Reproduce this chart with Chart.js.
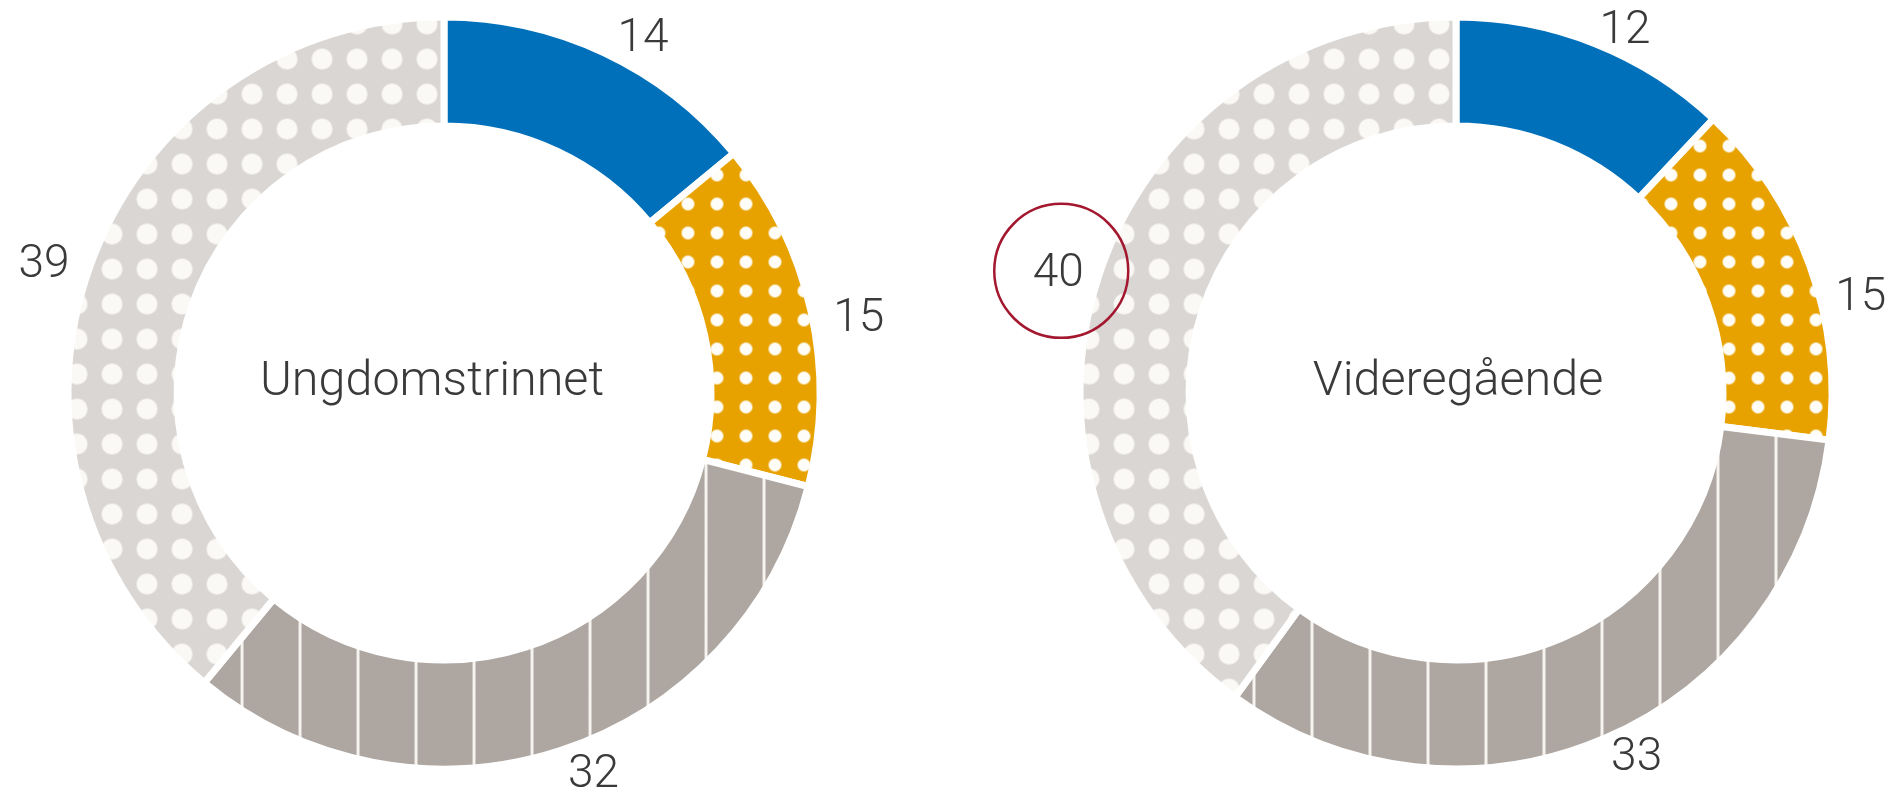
<!DOCTYPE html>
<html>
<head>
<meta charset="utf-8">
<script src="https://cdn.jsdelivr.net/npm/chart.js@4.4.1/dist/chart.umd.min.js"></script>
<style>
html,body{margin:0;padding:0;background:#ffffff;}
#wrap{position:relative;width:1887px;height:793px;overflow:hidden;background:#fff;}
canvas{position:absolute;top:0;}
</style>
</head>
<body>
<div id="wrap">
  <canvas id="c1" width="943" height="793" style="left:0px"></canvas>
  <canvas id="c2" width="944" height="793" style="left:943px"></canvas>
</div>
<script>
// ---- data ----
const categories = ['Kategori 1', 'Kategori 2', 'Kategori 3', 'Kategori 4'];
const chartTitles = ['Ungdomstrinnet', 'Videregående'];
const ungdomstrinnetValues = [14, 15, 32, 39];
const videregaendeValues = [12, 15, 33, 40];

// ---- styles ----
const BLUE = '#0070BA';
const ORANGE = '#E8A200';
const GRAY = '#ADA6A1';
const LIGHT = '#D9D6D3';
const TEXT = '#3a3a3a';
const RING_FONT = '300 46px Roboto';
const TITLE_FONT = '300 48.5px Roboto';

function makeDots(bg, dot, size, rad) {
  const c = document.createElement('canvas');
  c.width = size; c.height = size;
  const x = c.getContext('2d');
  x.fillStyle = bg; x.fillRect(0, 0, size, size);
  x.fillStyle = dot; x.beginPath(); x.arc(size / 2, size / 2, rad, 0, Math.PI * 2); x.fill();
  return { canvas: c, size };
}
function makeLines(bg, line, size, lw) {
  const c = document.createElement('canvas');
  c.width = size; c.height = 4;
  const x = c.getContext('2d');
  x.fillStyle = bg; x.fillRect(0, 0, size, 4);
  x.fillStyle = line; x.fillRect(0, 0, lw, 4);
  return { canvas: c, size };
}

function buildFills(ctx) {
  const o = makeDots(ORANGE, '#FFFDF8', 29, 6.5);
  const l = makeDots(LIGHT, '#FBF9F5', 35, 10.5);
  const g = makeLines(GRAY, '#F7F4F0', 58, 3);
  const op = ctx.createPattern(o.canvas, 'repeat');
  const lp = ctx.createPattern(l.canvas, 'repeat');
  const gp = ctx.createPattern(g.canvas, 'repeat');
  return {
    colors: [BLUE, op, gp, lp],
    align(cx, cy) {
      op.setTransform(new DOMMatrix([1, 0, 0, 1, cx + 12 - 14.5, cy + 14 - 14.5]));
      lp.setTransform(new DOMMatrix([1, 0, 0, 1, cx + 18 - 17.5, cy + 16 - 17.5]));
      gp.setTransform(new DOMMatrix([1, 0, 0, 1, cx + 30 - 1.5, 0]));
    }
  };
}

const ringLabels = {
  id: 'ringLabels',
  beforeDatasetsDraw(chart, args, opts) {
    const arc = chart.getDatasetMeta(0).data[0];
    if (arc && opts.fills) opts.fills.align(arc.x, arc.y);
  },
  afterDatasetsDraw(chart, args, opts) {
    const ctx = chart.ctx;
    const meta = chart.getDatasetMeta(0);
    const ds = chart.data.datasets[0];
    ctx.save();
    ctx.fillStyle = TEXT;
    ctx.textAlign = 'center';
    ctx.textBaseline = 'alphabetic';
    ctx.font = RING_FONT;
    let cx = 0, cy = 0;
    meta.data.forEach((arc, i) => {
      const p = arc.getProps(['x', 'y', 'startAngle', 'endAngle', 'outerRadius'], true);
      cx = p.x; cy = p.y;
      const mid = (p.startAngle + p.endAngle) / 2 + ((opts.nudge && opts.nudge[i]) || 0) * Math.PI / 180;
      const txt = String(ds.data[i]);
      const w = ctx.measureText(txt).width;
      const ext = Math.abs(Math.cos(mid)) * w / 2;
      const r = p.outerRadius + opts.gap + ext;
      const x = p.x + Math.cos(mid) * r;
      const y = p.y + Math.sin(mid) * r;
      ctx.fillText(txt, x, y + 16);
      if (opts.highlight === i) {
        ctx.save();
        ctx.strokeStyle = '#A3182F';
        ctx.lineWidth = 2.5;
        ctx.beginPath();
        ctx.arc(x + 3, y + 1, 67, 0, Math.PI * 2);
        ctx.stroke();
        ctx.restore();
      }
    });
    ctx.font = TITLE_FONT;
    ctx.fillText(opts.title, cx + (opts.titleDx || 0), cy + 2);
    ctx.restore();
  }
};

function makeChart(id, values, title, padding, nudge, highlight, titleDx, gap) {
  const canvas = document.getElementById(id);
  const ctx = canvas.getContext('2d');
  const fills = buildFills(ctx);
  return new Chart(ctx, {
    type: 'doughnut',
    data: {
      labels: categories,
      datasets: [{
        data: values,
        backgroundColor: fills.colors,
        borderColor: '#ffffff',
        borderWidth: 7,
        borderJoinStyle: 'miter',
        hoverOffset: 0
      }]
    },
    options: {
      responsive: false,
      animation: false,
      events: [],
      radius: 376,
      cutout: '71%',
      rotation: 0,
      circumference: 360,
      layout: { padding },
      plugins: {
        legend: { display: false },
        tooltip: { enabled: false },
        ringLabels: { fills, title, gap, nudge, highlight, titleDx }
      }
    },
    plugins: [ringLabels]
  });
}

makeChart('c1', ungdomstrinnetValues, chartTitles[0],
  { left: 0, right: 55, top: 0, bottom: 7 }, [3.9, 1.9, -3.6, -1.5], -1, -12, 21);
makeChart('c2', videregaendeValues, chartTitles[1],
  { left: 82, right: 0, top: 0, bottom: 7 }, [3.2, 6.0, -3.2, -0.8], 3, 2, 16);
</script>
</body>
</html>
